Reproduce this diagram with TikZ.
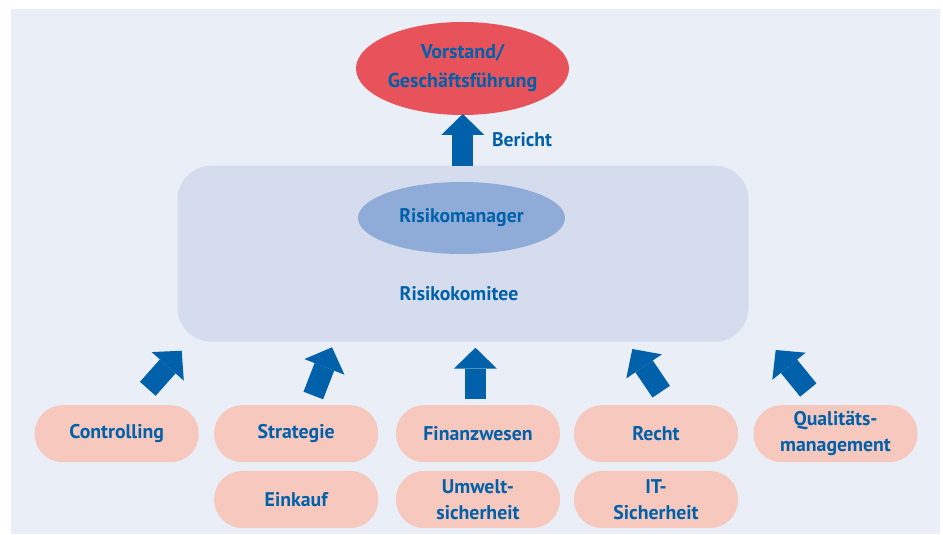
\documentclass[tikz,border=0pt]{standalone}
\usepackage{fontspec}
\setmainfont{PT Sans}
\usetikzlibrary{shapes.geometric,arrows.meta}

\definecolor{panel}{RGB}{233,238,247}
\definecolor{committee}{RGB}{213,220,238}
\definecolor{manager}{RGB}{143,171,216}
\definecolor{board}{RGB}{232,82,91}
\definecolor{dept}{RGB}{247,200,189}
\definecolor{ink}{RGB}{0,97,170}

\tikzset{
  label text/.style={text=ink, font=\fontsize{19.7}{27}\selectfont\bfseries, align=center},
  dept/.style={rectangle, rounded corners=28pt, fill=dept, minimum width=164pt,
    minimum height=57pt, inner sep=0pt, text=ink, align=center,
    font=\fontsize{19.8}{25.5}\selectfont\bfseries},
  fatarrow/.style={draw=ink, line width=21pt,
    -{Triangle[length=21pt,width=43pt,line width=0pt]}},
}

\begin{document}
\begin{tikzpicture}[x=1pt,y=1pt]
\useasboundingbox (0,0) rectangle (943,535);
% background panel
\fill[panel] (11,1) rectangle (940,526);

% top level
\node[ellipse, fill=board, minimum width=213pt, minimum height=93pt, inner sep=0pt,
      label text, font=\fontsize{20}{29}\selectfont\bfseries]
  (board) at (462.5,466.5) {Vorstand/\\Geschäftsführung};

% risk committee with the risk manager inside
\node[rectangle, rounded corners=34pt, fill=committee, minimum width=571pt,
      minimum height=176pt, inner sep=0pt] (committee) at (463,281.3) {};
\node[ellipse, fill=manager, minimum width=207pt, minimum height=72pt, inner sep=0pt,
      label text] (manager) at (461.5,317) {Risikomanager};
\node[label text] (committeelabel) at (459,241) {Risikokomitee};

% report to the board
\coordinate (reportTail) at (462.8,369);
\coordinate (reportTip) at (462.8,421);
\draw[fatarrow] (reportTail) -- (reportTip);
\node[label text] (report) at (522,395) {Bericht};

% departments
\node[dept] (controlling) at (116.7,101.3) {Controlling};
\node[dept] (strategie)   at (296.2,101.3) {Strategie};
\node[dept] (finanz)      at (478,101.3)   {Finanzwesen};
\node[dept] (recht)       at (656,101.3)   {Recht};
\node[dept] (qualitaet)   at (835.5,101.3) {Qualitäts-\\management};
\node[dept] (einkauf)     at (296.2,35.5)  {Einkauf};
\node[dept] (umwelt)      at (478,35.5)    {Umwelt-\\sicherheit};
\node[dept] (it)          at (656,35.5)    {IT-\\Sicherheit};

% reporting arrows from the departments to the committee
\coordinate (a1t) at (147.8,146.2); \coordinate (a1h) at (181.7,184.3);
\coordinate (a2t) at (313.3,139.5); \coordinate (a2h) at (332,187.7);
\coordinate (a3t) at (475.4,136);   \coordinate (a3h) at (475.4,187.3);
\coordinate (a4t) at (661.2,143.3); \coordinate (a4h) at (632.3,186);
\coordinate (a5t) at (808.3,145);   \coordinate (a5h) at (775.7,185);
\foreach \i in {1,...,5} {\draw[fatarrow] (a\i t) -- (a\i h);}
\end{tikzpicture}
\end{document}
